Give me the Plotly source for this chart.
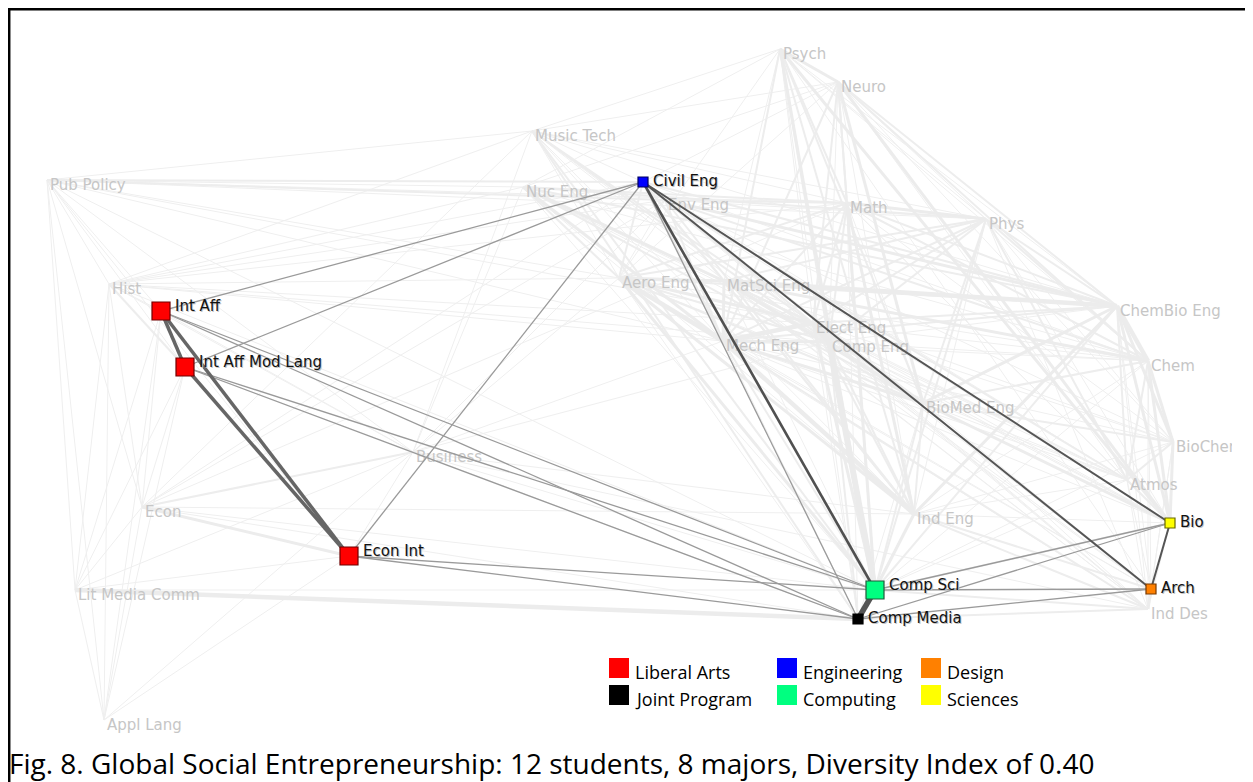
import plotly.graph_objects as go

# ---------------- data ----------------
node_ids = ["PSY", "NEU", "MUS", "PUB", "NUC", "ENV", "MAT", "PHY", "HIS", "AER",
            "MSE", "CBE", "EE", "ME", "CMPE", "CHM", "BME", "BCH", "ATM", "BUS",
            "ECO", "IE", "LMC", "ID", "AL",
            "IA", "IAML", "EI", "CE", "CS", "CM", "BIO", "ARC"]
node_labels = ["Psych", "Neuro", "Music Tech", "Pub Policy", "Nuc Eng", "Env Eng", "Math", "Phys", "Hist", "Aero Eng",
               "MatSci Eng", "ChemBio Eng", "Elect Eng", "Mech Eng", "Comp Eng", "Chem", "BioMed Eng", "BioChem", "Atmos", "Business",
               "Econ", "Ind Eng", "Lit Media Comm", "Ind Des", "Appl Lang",
               "Int Aff", "Int Aff Mod Lang", "Econ Int", "Civil Eng", "Comp Sci", "Comp Media", "Bio", "Arch"]
node_x = [780, 838, 532, 47, 523, 665, 847, 986, 109, 619,
          724, 1117, 813, 723, 829, 1148, 923, 1173, 1127, 413,
          142, 914, 75, 1148, 104,
          161, 185, 349, 643, 875, 858, 1170, 1151]
node_y = [49, 82, 131, 180, 187, 200, 203, 219, 284, 278,
          281, 306, 323, 341, 342, 361, 403, 442, 480, 452,
          507, 514, 590, 609, 720,
          311, 367, 556, 182, 590, 619, 523, 589]

# team (highlighted) majors
team_ids = ["IA", "IAML", "EI", "CE", "CS", "CM", "BIO", "ARC"]
team_college = ["Liberal Arts", "Liberal Arts", "Liberal Arts", "Engineering",
                "Computing", "Joint Program", "Sciences", "Design"]
team_students = [2, 2, 2, 1, 2, 1, 1, 1]

legend_names = ["Liberal Arts", "Joint Program", "Engineering", "Computing", "Design", "Sciences"]
legend_colors = ["#ff0000", "#000000", "#0000ff", "#00ff80", "#ff8000", "#ffff00"]
legend_borders = ["#700000", "#000000", "#000060", "#1e5a3a", "#7a3a00", "#6a6a00"]

# team edges (a, b, weight)
team_edges = [
    ("IA", "IAML", 3), ("IA", "EI", 3), ("IAML", "EI", 3),
    ("IA", "CE", 1), ("IAML", "CE", 1), ("EI", "CE", 1),
    ("IA", "CS", 1), ("IA", "CM", 1), ("IAML", "CS", 1), ("IAML", "CM", 1),
    ("EI", "CS", 1), ("EI", "CM", 1),
    ("CE", "CS", 2.5), ("CE", "CM", 1), ("CE", "ARC", 2), ("CE", "BIO", 2),
    ("CS", "CM", 4), ("CS", "BIO", 1), ("CM", "BIO", 1),
    ("CS", "ARC", 1), ("CM", "ARC", 1), ("BIO", "ARC", 2),
]

# background network edges (a, b, weight)
bg_edges = [
    ("PSY","NEU",3),("PSY","MUS",1),("PSY","NUC",1),("PSY","MAT",2),("PSY","PHY",1),("PSY","ME",2),
    ("PSY","CMPE",2),("PSY","EE",1),("PSY","BME",2),("PSY","CHM",1),("PSY","BIO",3),("PSY","CS",3),
    ("PSY","CM",1),("PSY","IE",2),("PSY","ARC",1),("PSY","CBE",1),("PSY","AER",1),("PSY","MSE",1),
    ("NEU","MUS",1),("NEU","MAT",2),("NEU","PHY",1),("NEU","CBE",2),("NEU","BME",3),("NEU","CHM",2),
    ("NEU","BCH",1),("NEU","BIO",3),("NEU","CS",2),("NEU","EE",2),("NEU","ME",2),("NEU","CMPE",1),
    ("NEU","AER",1),("NEU","NUC",1),("NEU","IE",1),("NEU","ATM",1),("NEU","CE",1),
    ("MUS","PUB",1),("MUS","CS",2),("MUS","CM",2),("MUS","EE",2),("MUS","CMPE",2),("MUS","ME",1),
    ("MUS","AER",1),("MUS","MAT",1),("MUS","PHY",1),("MUS","BUS",1),("MUS","IE",1),("MUS","CE",1),
    ("MUS","CBE",1),("MUS","ID",1),("MUS","ARC",1),("MUS","ECO",1),
    ("PUB","HIS",1),("PUB","ECO",1),("PUB","LMC",1),("PUB","AL",1),("PUB","IA",1),("PUB","IAML",1),
    ("PUB","BUS",1),("PUB","CE",2),("PUB","NUC",1),("PUB","ENV",2),("PUB","MAT",1),("PUB","PHY",1),
    ("PUB","AER",1),("PUB","EE",1),("PUB","ME",1),("PUB","CS",1),("PUB","EI",1),
    ("NUC","MAT",2),("NUC","PHY",2),("NUC","AER",2),("NUC","MSE",3),("NUC","ME",3),("NUC","EE",2),
    ("NUC","CMPE",1),("NUC","CBE",2),("NUC","CHM",1),("NUC","BME",2),("NUC","IE",1),("NUC","CS",1),
    ("NUC","ATM",1),("NUC","BUS",1),("NUC","HIS",1),
    ("ENV","MAT",2),("ENV","PHY",1),("ENV","CBE",3),("ENV","CHM",2),("ENV","ATM",2),("ENV","BCH",1),
    ("ENV","BIO",1),("ENV","CE",2),("ENV","ME",2),("ENV","AER",1),("ENV","IE",2),("ENV","ARC",1),
    ("ENV","BUS",1),("ENV","HIS",1),("ENV","ECO",1),
    ("MAT","PHY",3),("MAT","CS",3),("MAT","EE",2),("MAT","CMPE",2),("MAT","ME",2),("MAT","AER",2),
    ("MAT","IE",3),("MAT","CBE",2),("MAT","CHM",2),("MAT","BME",1),("MAT","BCH",1),("MAT","ATM",1),
    ("MAT","ECO",1),("MAT","HIS",1),("MAT","BIO",1),("MAT","CM",1),
    ("PHY","CBE",2),("PHY","CHM",2),("PHY","BCH",1),("PHY","ATM",2),("PHY","EE",2),("PHY","ME",2),
    ("PHY","AER",2),("PHY","MSE",2),("PHY","CS",2),("PHY","CMPE",2),("PHY","BME",2),("PHY","IE",1),
    ("PHY","BIO",1),("PHY","ID",1),
    ("HIS","ECO",1),("HIS","LMC",1),("HIS","AL",1),("HIS","IAML",2),("HIS","IA",1),("HIS","BUS",1),
    ("HIS","CE",1),("HIS","MUS",1),("HIS","AER",1),("HIS","ME",1),("HIS","CS",1),("HIS","EE",1),
    ("HIS","CMPE",1),
    ("AER","MSE",3),("AER","ME",4),("AER","EE",3),("AER","CMPE",2),("AER","CS",3),("AER","IE",3),
    ("AER","BME",2),("AER","CBE",2),("AER","CHM",1),("AER","CE",2),("AER","CM",1),("AER","ATM",1),
    ("AER","BUS",1),("AER","ID",1),("AER","ARC",1),
    ("MSE","ME",3),("MSE","EE",2),("MSE","CBE",4),("MSE","CHM",3),("MSE","BME",3),("MSE","BCH",1),
    ("MSE","IE",2),("MSE","CS",1),("MSE","CE",2),("MSE","CMPE",2),("MSE","ATM",1),("MSE","BIO",1),
    ("MSE","ARC",1),("MSE","ID",1),
    ("CBE","CHM",4),("CBE","BCH",3),("CBE","BIO",3),("CBE","BME",3),("CBE","ATM",2),("CBE","ME",2),
    ("CBE","EE",2),("CBE","IE",3),("CBE","CE",2),("CBE","CS",2),("CBE","CMPE",1),("CBE","ID",1),
    ("CBE","ARC",1),
    ("EE","CMPE",5),("EE","ME",4),("EE","CS",3),("EE","BME",3),("EE","IE",2),("EE","CE",2),
    ("EE","CHM",1),("EE","BIO",1),("EE","CM",1),("EE","ATM",1),("EE","ID",1),("EE","ARC",1),("EE","BCH",1),
    ("ME","CMPE",3),("ME","BME",3),("ME","IE",4),("ME","CS",2),("ME","CE",3),("ME","CHM",1),
    ("ME","BIO",1),("ME","ID",2),("ME","ARC",1),("ME","BUS",1),("ME","CM",1),("ME","ATM",1),("ME","BCH",1),
    ("CMPE","CS",5),("CMPE","BME",2),("CMPE","IE",2),("CMPE","CM",2),("CMPE","CE",1),("CMPE","ID",1),
    ("CMPE","BUS",1),("CMPE","CHM",1),("CMPE","ATM",1),("CMPE","BIO",1),
    ("CHM","BCH",3),("CHM","BIO",3),("CHM","BME",2),("CHM","ATM",2),("CHM","IE",1),("CHM","CS",1),
    ("CHM","ARC",1),("CHM","ID",1),("CHM","CE",1),
    ("BME","BIO",3),("BME","BCH",2),("BME","IE",2),("BME","CS",2),("BME","CE",1),("BME","ATM",1),
    ("BME","ID",1),("BME","CM",1),("BME","ARC",1),
    ("BCH","BIO",3),("BCH","ATM",2),("BCH","ID",1),("BCH","ARC",1),("BCH","CS",1),("BCH","IE",1),
    ("ATM","BIO",2),("ATM","ARC",1),("ATM","ID",1),("ATM","IE",1),("ATM","CS",1),("ATM","CE",1),
    ("BUS","ECO",2),("BUS","IA",1),("BUS","IAML",1),("BUS","EI",1),("BUS","LMC",1),("BUS","IE",1),
    ("BUS","CS",1),("BUS","CM",1),("BUS","AL",1),("BUS","ID",1),
    ("ECO","LMC",1),("ECO","AL",1),("ECO","IA",1),("ECO","IAML",1),("ECO","EI",3),("ECO","CS",1),
    ("ECO","IE",1),("ECO","CE",1),("ECO","CM",1),
    ("IE","CS",3),("IE","CE",2),("IE","ID",2),("IE","ARC",2),("IE","BIO",1),("IE","CM",1),
    ("LMC","CM",4),("LMC","CS",1),("LMC","AL",1),("LMC","IA",1),("LMC","IAML",1),("LMC","EI",1),
    ("ID","ARC",3),("ID","CS",2),("ID","CM",2),("ID","BIO",1),("ID","CE",1),
    ("AL","IA",1),("AL","IAML",1),("AL","EI",1),
    ("CS","CE",2),("CM","CE",1),("CS","BIO",2),("CE","ARC",1),
]

caption = "Fig. 8. Global Social Entrepreneurship: 12 students, 8 majors, Diversity Index of 0.40"

# ---------------- layout constants ----------------
PAGE_MARGIN = 8          # default body margin of the html page
W, H = 1253 - PAGE_MARGIN, 782 - PAGE_MARGIN
CLIP_X = 1232            # right edge of the network canvas (screen px)

# ---------------- helpers ----------------
idx = {k: i for i, k in enumerate(node_ids)}
college_color = dict(zip(legend_names, legend_colors))
college_border = dict(zip(legend_names, legend_borders))


def segments(edges):
    xs, ys = [], []
    for a, b in edges:
        xs += [node_x[idx[a]], node_x[idx[b]], None]
        ys += [node_y[idx[a]], node_y[idx[b]], None]
    return xs, ys


fig = go.Figure()

# background edges grouped by weight
bg_style = {1: (1.0, "#efefef"), 2: (2.0, "#ededed"), 3: (3.0, "#ececec"),
            4: (4.5, "#ececec"), 5: (6.0, "#ebebeb")}
for w in sorted(set(e[2] for e in bg_edges)):
    xs, ys = segments([(a, b) for a, b, ww in bg_edges if ww == w])
    lw, col = bg_style[w]
    fig.add_trace(go.Scatter(x=xs, y=ys, mode="lines", line=dict(width=lw, color=col),
                             hoverinfo="skip"))

# background labels
team_set = set(team_ids)
bg_idx = [i for i, k in enumerate(node_ids) if k not in team_set]
fig.add_trace(go.Scatter(
    x=[node_x[i] + 3 for i in bg_idx], y=[node_y[i] + 6 for i in bg_idx],
    text=[node_labels[i] for i in bg_idx], mode="text", textposition="middle right",
    textfont=dict(family="DejaVu Sans", size=15, color="#c6c6c6"), hoverinfo="skip",
    cliponaxis=True))

# team edges grouped by weight
team_style = {1: (1.3, "#9a9a9a"), 2: (2.0, "#555555"), 2.5: (2.6, "#505050"),
              3: (3.5, "#666666"), 4: (5.5, "#555555")}
for w in sorted(set(e[2] for e in team_edges)):
    xs, ys = segments([(a, b) for a, b, ww in team_edges if ww == w])
    lw, col = team_style[w]
    fig.add_trace(go.Scatter(x=xs, y=ys, mode="lines", line=dict(width=lw, color=col),
                             hoverinfo="skip"))

# team nodes
tx = [node_x[idx[k]] for k in team_ids]
ty = [node_y[idx[k]] for k in team_ids]
tsize = [2 + 8 * n for n in team_students]
tcol = [college_color[c] for c in team_college]
tbor = [college_border[c] for c in team_college]
fig.add_trace(go.Scatter(
    x=tx, y=ty, mode="markers",
    marker=dict(symbol="square", size=tsize, color=tcol, opacity=1,
                line=dict(width=1.2, color=tbor)),
    hoverinfo="skip"))

# team labels (with soft shadow)
lx = [x + s / 2 + 5 for x, s in zip(tx, tsize)]
ly = [y - (n - 1) * 4 for y, n in zip(ty, team_students)]
tlabels = [node_labels[idx[k]] for k in team_ids]
fig.add_trace(go.Scatter(x=[v + 1 for v in lx], y=[v + 1 for v in ly], text=tlabels, mode="text",
                         textposition="middle right",
                         textfont=dict(family="DejaVu Sans", size=15, color="#c4c4c4"),
                         hoverinfo="skip"))
fig.add_trace(go.Scatter(x=lx, y=ly, text=tlabels, mode="text", textposition="middle right",
                         textfont=dict(family="DejaVu Sans", size=15, color="#111111"),
                         hoverinfo="skip"))

# legend (drawn as squares + text)
leg_x = [609, 609, 777, 777, 921, 921]
leg_y = [668, 695, 668, 695, 668, 695]
for name, col, x0, y0 in zip(legend_names, legend_colors, leg_x, leg_y):
    fig.add_shape(type="rect", xref="x", yref="y", x0=x0, x1=x0 + 20, y0=y0 - 10, y1=y0 + 10,
                  fillcolor=col, line=dict(width=0))
    fig.add_annotation(xref="x", yref="y", x=x0 + 24, y=y0 + 4, text=name, showarrow=False,
                       xanchor="left", yanchor="middle",
                       font=dict(family="Open Sans", size=18, color="#000000"))

# caption
fig.add_annotation(xref="paper", yref="y", x=0, y=763, text=caption, showarrow=False,
                   xanchor="left", yanchor="middle", borderpad=0,
                   font=dict(family="Open Sans", size=28, color="#000000"))

# border (top and left visible)
fig.add_shape(type="line", xref="paper", yref="paper", x0=0, x1=1, y0=1 - 1.2 / H, y1=1 - 1.2 / H,
              line=dict(color="black", width=2.5))
fig.add_shape(type="line", xref="paper", yref="paper", x0=1.2 / W, x1=1.2 / W, y0=0, y1=1,
              line=dict(color="black", width=2.5))

fig.update_layout(
    width=W, height=H, margin=dict(l=0, r=0, t=0, b=0),
    paper_bgcolor="white", plot_bgcolor="white", showlegend=False,
    xaxis=dict(range=[PAGE_MARGIN, CLIP_X], domain=[0, (CLIP_X - PAGE_MARGIN) / W],
               visible=False, fixedrange=True),
    yaxis=dict(range=[782, PAGE_MARGIN], domain=[0, 1], visible=False, fixedrange=True),
)

fig.write_html("out.html")
